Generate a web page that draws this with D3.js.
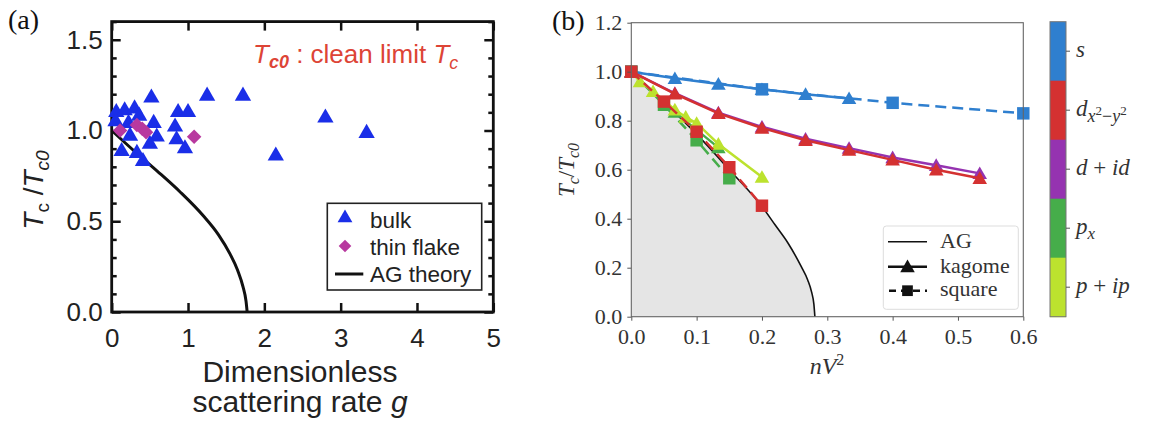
<!DOCTYPE html>
<html><head><meta charset="utf-8">
<script src="https://cdn.jsdelivr.net/npm/d3@7/dist/d3.min.js"></script>
<style>body{margin:0;background:#fff;}svg{display:block;}</style>
</head><body>
<svg id="chart" width="1153" height="424"></svg>
<script>
// ================= Panel (a) data =================
const aBulkG = [0.06,0.17,0.30,0.36,0.05,0.22,0.52,1.25,1.72,2.80,2.15,3.34,0.55,0.87,1.00,0.83,0.85,0.96,0.59,0.50,0.13,0.33,0.41,0.24];
const aBulkT = [1.10,1.11,1.12,1.08,1.05,1.04,1.18,1.19,1.19,1.07,0.86,0.985,1.04,1.10,1.10,1.02,0.95,0.90,0.965,0.925,0.885,0.875,0.83,0.97];
const aFlakeG = [0.11,0.33,0.40,0.45,1.08];
const aFlakeT = [1.00,1.03,1.01,0.99,0.965];
const aAGG = [0,0.3,0.6,0.9,1.2,1.4,1.55,1.65,1.72,1.76,1.775];
const aAGT = [1,0.885,0.775,0.66,0.53,0.425,0.32,0.23,0.14,0.06,0];
const aXTicks = [0,1,2,3,4,5];
const aYTicks = [0,0.5,1.0,1.5];
const aYMinor = [0.1,0.2,0.3,0.4,0.6,0.7,0.8,0.9,1.1,1.2,1.3,1.4,1.6];
const aLegend = ["bulk","thin flake","AG theory"];

// ================= Panel (b) data =================
const bAGx = [0,0.05,0.1,0.15,0.2,0.22,0.24,0.26,0.27,0.276,0.2795,0.281];
const bAGy = [1,0.876,0.745,0.6,0.45,0.375,0.3,0.205,0.15,0.1,0.05,0];
const sKagX = [0,0.0667,0.1333,0.2,0.2667,0.3333];
const sKagY = [1,0.973,0.95,0.928,0.908,0.891];
const sSqX = [0,0.2,0.4,0.6];
const sSqY = [1,0.928,0.873,0.83];
const dKagX = [0,0.0667,0.1333,0.2,0.2667,0.3333,0.4,0.4667,0.5333];
const dKagY = [1,0.91,0.83,0.77,0.72,0.68,0.64,0.60,0.565];
const didKagY = [1,0.912,0.833,0.775,0.726,0.688,0.65,0.618,0.585];
const dSqX = [0,0.05,0.1,0.15,0.2];
const dSqY = [1,0.878,0.755,0.61,0.453];
const pxSqX = [0,0.05,0.1,0.15];
const pxSqY = [1,0.865,0.72,0.565];
const pxKagX = [0,0.0667,0.1333];
const pxKagY = [1,0.835,0.69];
const pipKagX = [0,0.0133,0.0333,0.0667,0.0833,0.1,0.1333,0.2];
const pipKagY = [1,0.96,0.92,0.845,0.815,0.79,0.705,0.57];
const bXTicks = [0,0.1,0.2,0.3,0.4,0.5,0.6];
const bYTicks = [0,0.2,0.4,0.6,0.8,1.0,1.2];
const cbNames = ["s","dx2y2","did","px","pip"];

// ================= styles =================
const COL = {s:"#2f7fcf", dx2y2:"#d43131", did:"#9533b0", px:"#46ad4a", pip:"#bce22e"};
const svg = d3.select("#chart");
const SANS = "'Liberation Sans', Arial, sans-serif";
const SERIF = "'Liberation Serif', 'DejaVu Serif', serif";

// ================= Panel (a) =================
const xA = d3.scaleLinear().domain([0,5]).range([111.7,493.3]);
const yA = d3.scaleLinear().domain([0,1.6]).range([312,21.6]);
const gA = svg.append("g");

function styleAxis(g, font, size, color){
  g.select(".domain").remove();
  g.selectAll("text").attr("font-family",font).attr("font-size",size).attr("fill",color);
}
function tickStyle(sel){ sel.selectAll("line").attr("stroke","#111").attr("stroke-width",2.5); }
gA.append("g").attr("transform",`translate(0,${yA(0)})`)
  .call(d3.axisBottom(xA).tickValues(aXTicks).tickSize(-9).tickPadding(17).tickFormat(d3.format("d")))
  .call(g=>styleAxis(g,SANS,26,"#222")).call(tickStyle);
gA.append("g").attr("transform",`translate(0,${yA(1.6)})`)
  .call(d3.axisTop(xA).tickValues(aXTicks).tickSize(-9).tickFormat(""))
  .call(g=>styleAxis(g,SANS,26,"#222")).call(tickStyle);
gA.append("g").attr("transform",`translate(${xA(0)},0)`)
  .call(d3.axisLeft(yA).tickValues(aYTicks).tickSize(-9).tickPadding(9).tickFormat(d3.format(".1f")))
  .call(g=>styleAxis(g,SANS,26,"#222")).call(tickStyle);
gA.append("g").attr("transform",`translate(${xA(0)},0)`)
  .call(d3.axisLeft(yA).tickValues(aYMinor).tickSize(-5).tickFormat(""))
  .call(g=>styleAxis(g,SANS,26,"#222")).call(tickStyle);
gA.append("g").attr("transform",`translate(${xA(5)},0)`)
  .call(d3.axisRight(yA).tickValues(aYTicks).tickSize(-9).tickFormat(""))
  .call(g=>styleAxis(g,SANS,26,"#222")).call(tickStyle);
gA.append("g").attr("transform",`translate(${xA(5)},0)`)
  .call(d3.axisRight(yA).tickValues(aYMinor).tickSize(-5).tickFormat(""))
  .call(g=>styleAxis(g,SANS,26,"#222")).call(tickStyle);
gA.append("rect").attr("x",xA(0)).attr("y",yA(1.6)).attr("width",xA(5)-xA(0)).attr("height",yA(0)-yA(1.6))
  .attr("fill","none").attr("stroke","#111").attr("stroke-width",2.8);

gA.append("path").datum(aAGG.map((g,i)=>[g,aAGT[i]]))
  .attr("d",d3.line().x(d=>xA(d[0])).y(d=>yA(d[1])).curve(d3.curveMonotoneX))
  .attr("fill","none").attr("stroke","#111").attr("stroke-width",3);
const triA = d3.symbol().type(d3.symbolTriangle).size(115);
gA.append("g").selectAll("path").data(aBulkG.map((g,i)=>[g,aBulkT[i]])).join("path")
  .attr("d",triA).attr("transform",d=>`translate(${xA(d[0])},${yA(d[1])})`).attr("fill","#1a2ee8");
const sqA = d3.symbol().type(d3.symbolSquare).size(105);
gA.append("g").selectAll("path").data(aFlakeG.map((g,i)=>[g,aFlakeT[i]])).join("path")
  .attr("d",sqA).attr("transform",d=>`translate(${xA(d[0])},${yA(d[1])}) rotate(45)`).attr("fill","#b8399f");

const lgA = gA.append("g");
lgA.append("rect").attr("x",327.3).attr("y",203.3).attr("width",154.4).attr("height",86.7)
  .attr("fill","#fff").attr("stroke","#222").attr("stroke-width",1.6);
lgA.append("path").attr("d",d3.symbol().type(d3.symbolTriangle).size(95)).attr("transform","translate(345,218)").attr("fill","#1a2ee8");
lgA.append("path").attr("d",d3.symbol().type(d3.symbolSquare).size(80)).attr("transform","translate(345,246) rotate(45)").attr("fill","#b8399f");
lgA.append("line").attr("x1",335).attr("x2",363.3).attr("y1",274).attr("y2",274).attr("stroke","#111").attr("stroke-width",3);
lgA.selectAll("text.l").data(aLegend).join("text").attr("class","l")
  .attr("x",370).attr("y",(d,i)=>[228.3,255,281.7][i]).text(d=>d)
  .attr("font-family",SANS).attr("font-size",22.5).attr("fill","#222");

svg.append("text").attr("x",8).attr("y",29).text("(a)").attr("font-family",SERIF).attr("font-size",28).attr("fill","#111");
const rt = svg.append("text").attr("x",253).attr("y",63).attr("font-family",SANS).attr("font-size",26).attr("fill","#dd4436");
rt.append("tspan").attr("font-style","italic").text("T");
rt.append("tspan").attr("font-style","italic").attr("font-weight","bold").attr("font-size",18).attr("dy",5).text("c0");
rt.append("tspan").attr("dy",-5).text(" : clean limit ");
rt.append("tspan").attr("font-style","italic").text("T");
rt.append("tspan").attr("font-style","italic").attr("font-size",18).attr("dy",6).text("c");

const yl = svg.append("text").attr("transform","translate(43,190) rotate(-90)").attr("text-anchor","middle")
  .attr("font-family",SANS).attr("font-size",28).attr("fill","#222");
yl.append("tspan").attr("font-style","italic").text("T");
yl.append("tspan").attr("font-size",19).attr("dy",6).text("c");
yl.append("tspan").attr("dy",-6).text(" /");
yl.append("tspan").attr("font-style","italic").text("T");
yl.append("tspan").attr("font-style","italic").attr("font-size",19).attr("dy",6).text("c0");

svg.append("text").attr("x",300).attr("y",382).attr("text-anchor","middle").text("Dimensionless")
  .attr("font-family",SANS).attr("font-size",30).attr("fill","#222");
const xl2 = svg.append("text").attr("x",300).attr("y",412).attr("text-anchor","middle")
  .attr("font-family",SANS).attr("font-size",30).attr("fill","#222");
xl2.append("tspan").text("scattering rate ");
xl2.append("tspan").attr("font-style","italic").text("g");

// ================= Panel (b) =================
const xB = d3.scaleLinear().domain([0,0.6]).range([631.3,1023.3]);
const yB = d3.scaleLinear().domain([0,1.2]).range([316.7,22.7]);
const gB = svg.append("g");

const agPts = bAGx.map((x,i)=>[x,bAGy[i]]);
gB.append("path").datum(agPts)
  .attr("d",d3.area().x(d=>xB(d[0])).y0(yB(0)).y1(d=>yB(d[1])).curve(d3.curveMonotoneX))
  .attr("fill","#e5e5e5");
gB.append("path").datum(agPts)
  .attr("d",d3.line().x(d=>xB(d[0])).y(d=>yB(d[1])).curve(d3.curveMonotoneX))
  .attr("fill","none").attr("stroke","#111").attr("stroke-width",1.6);

const lineB = d3.line().x(d=>xB(d[0])).y(d=>yB(d[1]));
const triB = d3.symbol().type(d3.symbolTriangle).size(92);
const sqB = d3.symbol().type(d3.symbolSquare).size(155);
function series(xs, ys, color, dashed, marker){
  const pts = xs.map((x,i)=>[x,ys[i]]);
  const g = gB.append("g");
  g.append("path").datum(pts).attr("d",lineB).attr("fill","none").attr("stroke",color)
    .attr("stroke-width",2.5).attr("stroke-dasharray",dashed?"11,6":null);
  g.selectAll("path.m").data(pts).join("path").attr("class","m")
    .attr("d",marker==="tri"?triB:sqB).attr("transform",d=>`translate(${xB(d[0])},${yB(d[1])+(marker==="tri"?1.5:0)})`)
    .attr("fill",color);
}
series(sSqX, sSqY, COL.s, true, "sq");
series(sKagX, sKagY, COL.s, false, "tri");
series(pxKagX, pxKagY, COL.px, false, "tri");
series(pxSqX, pxSqY, COL.px, true, "sq");
series(pipKagX, pipKagY, COL.pip, false, "tri");
series(dKagX, didKagY, COL.did, false, "tri");
series(dKagX, dKagY, COL.dx2y2, false, "tri");
series(dSqX, dSqY, COL.dx2y2, true, "sq");

gB.append("g").attr("transform",`translate(0,${yB(0)})`)
  .call(d3.axisBottom(xB).tickValues(bXTicks).tickSize(4).tickPadding(8).tickFormat(d3.format(".1f")))
  .call(g=>styleAxis(g,SERIF,22,"#333")).selectAll("line").attr("stroke","#555");
gB.append("g").attr("transform",`translate(${xB(0)},0)`)
  .call(d3.axisLeft(yB).tickValues(bYTicks).tickSize(4).tickPadding(5).tickFormat(d3.format(".1f")))
  .call(g=>styleAxis(g,SERIF,22,"#333")).selectAll("line").attr("stroke","#555");
gB.append("rect").attr("x",xB(0)).attr("y",yB(1.2)).attr("width",xB(0.6)-xB(0)).attr("height",yB(0)-yB(1.2))
  .attr("fill","none").attr("stroke","#666").attr("stroke-width",1.1);

const lgB = gB.append("g");
lgB.append("rect").attr("x",883.3).attr("y",226).attr("width",135).attr("height",83.3).attr("rx",3)
  .attr("fill","#fff").attr("stroke","#ddd").attr("stroke-width",1);
lgB.append("line").attr("x1",888).attr("x2",927).attr("y1",241.7).attr("y2",241.7).attr("stroke","#111").attr("stroke-width",1.6);
lgB.append("line").attr("x1",888).attr("x2",927).attr("y1",266.7).attr("y2",266.7).attr("stroke","#111").attr("stroke-width",2.5);
lgB.append("path").attr("d",triB).attr("transform","translate(907.5,268)").attr("fill","#111");
lgB.append("line").attr("x1",888).attr("x2",927).attr("y1",290.7).attr("y2",290.7).attr("stroke","#111").attr("stroke-width",2.5).attr("stroke-dasharray","7,5").attr("stroke-dashoffset",-1);
lgB.append("path").attr("d",d3.symbol().type(d3.symbolSquare).size(115)).attr("transform","translate(907.5,290.7)").attr("fill","#111");
lgB.selectAll("text.l").data(["AG","kagome","square"]).join("text").attr("class","l")
  .attr("x",940).attr("y",(d,i)=>[248.3,273.3,296][i]).text(d=>d)
  .attr("font-family",SERIF).attr("font-size",22).attr("fill","#333");

svg.append("text").attr("x",552).attr("y",30).text("(b)").attr("font-family",SERIF).attr("font-size",28).attr("fill","#111");
const ylb = svg.append("text").attr("transform","translate(574,170) rotate(-90)").attr("text-anchor","middle")
  .attr("font-family",SERIF).attr("font-size",23).attr("font-style","italic").attr("fill","#333");
ylb.append("tspan").text("T");
ylb.append("tspan").attr("font-size",16).attr("dy",5).text("c");
ylb.append("tspan").attr("dy",-5).attr("font-style","normal").text("/");
ylb.append("tspan").text("T");
ylb.append("tspan").attr("font-size",16).attr("dy",5).text("c0");
const xlb = svg.append("text").attr("x",827).attr("y",374).attr("text-anchor","middle")
  .attr("font-family",SERIF).attr("font-size",24).attr("font-style","italic").attr("fill","#333");
xlb.append("tspan").text("nV");
xlb.append("tspan").attr("font-style","normal").attr("font-size",16).attr("dy",-9).text("2");

const cbY = d3.scaleBand().domain(cbNames).range([21.7,316.7]).paddingInner(0);
const cb = svg.append("g");
cb.selectAll("rect.c").data(cbNames).join("rect").attr("class","c")
  .attr("x",1050).attr("width",16).attr("y",d=>cbY(d)).attr("height",cbY.bandwidth()+0.5).attr("fill",d=>COL[d]);
cb.append("rect").attr("x",1050).attr("y",21.7).attr("width",16).attr("height",295).attr("fill","none").attr("stroke","#777").attr("stroke-width",1);
cb.selectAll("line.t").data(cbNames).join("line").attr("class","t")
  .attr("x1",1066).attr("x2",1070).attr("y1",d=>cbY(d)+cbY.bandwidth()/2).attr("y2",d=>cbY(d)+cbY.bandwidth()/2)
  .attr("stroke","#555");
function cbText(name){
  return cb.append("text").attr("x",1076).attr("y",cbY(name)+cbY.bandwidth()/2+6)
    .attr("font-family",SERIF).attr("font-size",23).attr("font-style","italic").attr("fill","#333");
}
cbText("s").text("s");
{ const t = cbText("dx2y2");
  t.append("tspan").text("d");
  t.append("tspan").attr("font-size",18).attr("dy",6).text("x");
  t.append("tspan").attr("font-size",13).attr("font-style","normal").attr("dy",-7).text("2");
  t.append("tspan").attr("font-size",18).attr("font-style","normal").attr("dy",7).text("\u2212");
  t.append("tspan").attr("font-size",18).text("y");
  t.append("tspan").attr("font-size",13).attr("font-style","normal").attr("dy",-7).text("2"); }
{ const t = cbText("did");
  t.append("tspan").text("d");
  t.append("tspan").attr("font-style","normal").text(" + ");
  t.append("tspan").text("id"); }
{ const t = cbText("px");
  t.append("tspan").text("p");
  t.append("tspan").attr("font-size",17).attr("dy",5).text("x"); }
{ const t = cbText("pip");
  t.append("tspan").text("p");
  t.append("tspan").attr("font-style","normal").text(" + ");
  t.append("tspan").text("ip"); }
</script>
</body></html>
